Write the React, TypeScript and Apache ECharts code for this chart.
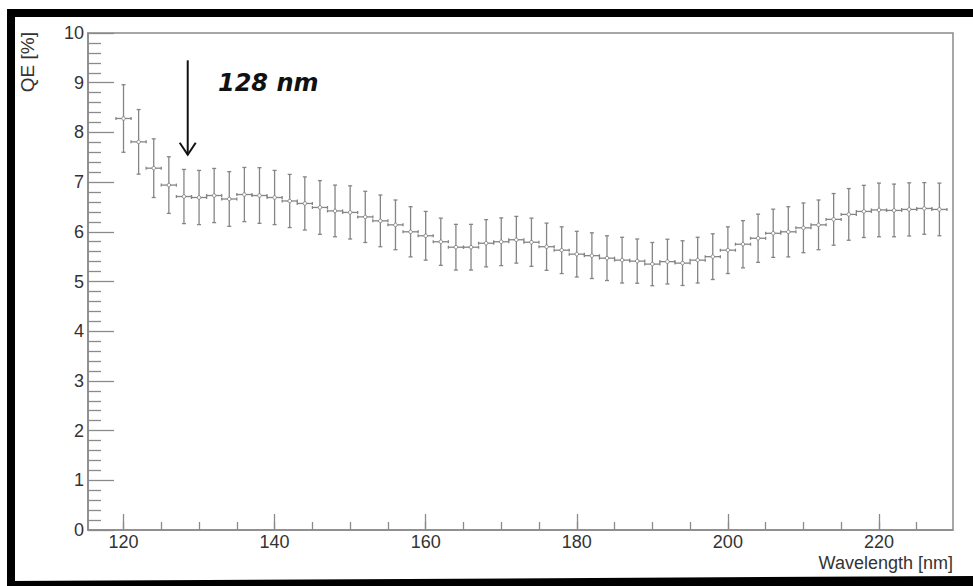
import React, { useEffect, useRef } from "react";
import * as echarts from "echarts";

const WAVELENGTH = [
  120, 122, 124, 126, 128, 130, 132, 134, 136, 138, 140, 142, 144, 146, 148,
  150, 152, 154, 156, 158, 160, 162, 164, 166, 168, 170, 172, 174, 176, 178,
  180, 182, 184, 186, 188, 190, 192, 194, 196, 198, 200, 202, 204, 206, 208,
  210, 212, 214, 216, 218, 220, 222, 224, 226, 228,
];
const QE = [
  8.28, 7.81, 7.28, 6.94, 6.71, 6.69, 6.73, 6.66, 6.75, 6.73, 6.69, 6.62, 6.57,
  6.49, 6.42, 6.39, 6.3, 6.22, 6.14, 6.0, 5.92, 5.8, 5.69, 5.69, 5.77, 5.8,
  5.84, 5.79, 5.7, 5.63, 5.55, 5.52, 5.47, 5.43, 5.41, 5.35, 5.4, 5.37, 5.43,
  5.5, 5.63, 5.75, 5.87, 5.97, 6.0, 6.08, 6.14, 6.25, 6.35, 6.41, 6.44, 6.43,
  6.45, 6.47, 6.45,
];
const QE_ERR = [
  0.68, 0.65, 0.59, 0.57, 0.545, 0.545, 0.545, 0.55, 0.545, 0.56, 0.545, 0.535,
  0.535, 0.54, 0.52, 0.535, 0.515, 0.52, 0.5, 0.505, 0.49, 0.475, 0.46, 0.46,
  0.475, 0.48, 0.47, 0.485, 0.475, 0.47, 0.46, 0.46, 0.45, 0.46, 0.445, 0.435,
  0.45, 0.45, 0.46, 0.46, 0.47, 0.475, 0.485, 0.485, 0.505, 0.5, 0.5, 0.52,
  0.52, 0.525, 0.54, 0.53, 0.535, 0.52, 0.53,
];
const BIN_HALF_WIDTH = 1;

const X_MAJOR_TICKS = [120, 140, 160, 180, 200, 220];
const X_MINOR_TICKS = [
  120, 125, 130, 135, 140, 145, 150, 155, 160, 165, 170, 175, 180, 185, 190,
  195, 200, 205, 210, 215, 220, 225,
];
const X_MIN = 115.3;
const X_MAX = 229.8;
const Y_MIN = 0;
const Y_MAX = 10;

// annotation: [arrowX, arrowTopY, arrowBottomY, textX, textY]
const ANNOTATION = [[128.5, 9.45, 7.55, 132.5, 9.0]];
const ANNOTATION_TEXT = "128 nm";

const X_TITLE = "Wavelength [nm]";
const Y_TITLE = "QE [%]";

const AXIS_GRAY = "#8a8a8a";
const BAR_GRAY = "#858585";
const FONT = '"Liberation Sans", Arial, Helvetica, sans-serif';

export default function App() {
  const ref = useRef<HTMLDivElement>(null);

  useEffect(() => {
    if (!ref.current) return;
    const chart = echarts.init(ref.current, undefined, { renderer: "svg" });

    const data = WAVELENGTH.map((w, i) => [w, QE[i], QE_ERR[i]]);

    const option: any = {
      animation: false,
      backgroundColor: "#ffffff",
      grid: {
        left: 88,
        right: 20,
        top: 33,
        bottom: 56,
        show: true,
        borderColor: AXIS_GRAY,
        borderWidth: 1.5,
        backgroundColor: "transparent",
      },
      xAxis: [
        {
          type: "value",
          min: X_MIN,
          max: X_MAX,
          position: "bottom",
          axisLine: { show: true, lineStyle: { color: AXIS_GRAY, width: 1.5 } },
          axisTick: {
            show: true,
            inside: true,
            length: 16,
            customValues: X_MAJOR_TICKS,
            lineStyle: { color: AXIS_GRAY, width: 1.3 },
          },
          axisLabel: {
            customValues: X_MAJOR_TICKS,
            fontFamily: FONT,
            fontSize: 18,
            color: "#333",
            margin: 3,
          },
          splitLine: { show: false },
        },
        {
          type: "value",
          min: X_MIN,
          max: X_MAX,
          position: "bottom",
          axisLine: { show: false },
          axisTick: {
            show: true,
            inside: true,
            length: 8,
            customValues: X_MINOR_TICKS,
            lineStyle: { color: AXIS_GRAY, width: 1.3 },
          },
          axisLabel: { show: false },
          splitLine: { show: false },
        },
      ],
      yAxis: {
        type: "value",
        min: Y_MIN,
        max: Y_MAX,
        interval: 1,
        axisLine: { show: true, lineStyle: { color: AXIS_GRAY, width: 1.5 } },
        axisTick: {
          show: true,
          inside: true,
          length: 26,
          lineStyle: { color: AXIS_GRAY, width: 1.3 },
        },
        minorTick: {
          show: true,
          splitNumber: 5,
          length: 13,
          lineStyle: { color: AXIS_GRAY, width: 1.3 },
        },
        axisLabel: {
          fontFamily: FONT,
          fontSize: 18,
          color: "#333",
          margin: 4,
        },
        splitLine: { show: false },
        minorSplitLine: { show: false },
      },
      series: [
        {
          type: "custom",
          xAxisIndex: 0,
          yAxisIndex: 0,
          data,
          encode: { x: 0, y: 1 },
          renderItem: (params: any, api: any) => {
            const x = api.value(0);
            const y = api.value(1);
            const e = api.value(2);
            const c = api.coord([x, y]);
            const t = api.coord([x, y + e]);
            const b = api.coord([x, y - e]);
            const l = api.coord([x - BIN_HALF_WIDTH, y]);
            const r = api.coord([x + BIN_HALF_WIDTH, y]);
            const st = { stroke: BAR_GRAY, lineWidth: 1.3, fill: "none" };
            return {
              type: "group",
              children: [
                { type: "line", shape: { x1: t[0], y1: t[1], x2: b[0], y2: b[1] }, style: st },
                { type: "line", shape: { x1: t[0] - 2, y1: t[1], x2: t[0] + 2, y2: t[1] }, style: st },
                { type: "line", shape: { x1: b[0] - 2, y1: b[1], x2: b[0] + 2, y2: b[1] }, style: st },
                { type: "line", shape: { x1: l[0], y1: l[1], x2: r[0], y2: r[1] }, style: st },
                { type: "line", shape: { x1: l[0], y1: l[1] - 1.5, x2: l[0], y2: l[1] + 1.5 }, style: st },
                { type: "line", shape: { x1: r[0], y1: r[1] - 1.5, x2: r[0], y2: r[1] + 1.5 }, style: st },
                {
                  type: "circle",
                  shape: { cx: c[0], cy: c[1], r: 1.8 },
                  style: { stroke: BAR_GRAY, lineWidth: 1, fill: "#ffffff" },
                },
              ],
            };
          },
          z: 3,
        },
        {
          type: "custom",
          xAxisIndex: 0,
          yAxisIndex: 0,
          data: ANNOTATION,
          encode: { x: 0, y: 1 },
          clip: false,
          renderItem: (params: any, api: any) => {
            const top = api.coord([api.value(0), api.value(1)]);
            const bot = api.coord([api.value(0), api.value(2)]);
            const tp = api.coord([api.value(3), api.value(4)]);
            const st = { stroke: "#111", lineWidth: 2, fill: "none" };
            return {
              type: "group",
              children: [
                { type: "line", shape: { x1: top[0], y1: top[1], x2: bot[0], y2: bot[1] }, style: st },
                {
                  type: "polyline",
                  shape: {
                    points: [
                      [bot[0] - 8, bot[1] - 12],
                      [bot[0], bot[1]],
                      [bot[0] + 8, bot[1] - 12],
                    ],
                  },
                  style: st,
                },
                {
                  type: "text",
                  x: tp[0],
                  y: tp[1],
                  style: {
                    text: ANNOTATION_TEXT,
                    fill: "#111",
                    fontFamily: '"DejaVu Sans", Verdana, sans-serif',
                    fontSize: 24,
                    fontWeight: "bold",
                    fontStyle: "italic",
                    align: "left",
                    verticalAlign: "middle",
                  },
                },
              ],
            };
          },
          z: 4,
        },
      ],
      graphic: [
        {
          type: "rect",
          shape: { x: 7, y: 9, width: 966, height: 8 },
          style: { fill: "#000" },
          silent: true,
        },
        {
          type: "rect",
          shape: { x: 7, y: 9, width: 8, height: 577 },
          style: { fill: "#000" },
          silent: true,
        },
        {
          type: "polygon",
          shape: {
            points: [
              [7, 581],
              [973, 576],
              [973, 586],
              [7, 586],
            ],
          },
          style: { fill: "#000" },
          silent: true,
        },
        {
          type: "text",
          x: 27,
          y: 32,
          rotation: Math.PI / 2,
          style: {
            text: Y_TITLE,
            fill: "#333",
            font: `19px ${FONT}`,
            textAlign: "right",
            textVerticalAlign: "middle",
            align: "right",
            verticalAlign: "middle",
          },
        },
        {
          type: "text",
          x: 953,
          y: 563,
          style: {
            text: X_TITLE,
            fill: "#333",
            font: `18px ${FONT}`,
            textAlign: "right",
            textVerticalAlign: "middle",
            align: "right",
            verticalAlign: "middle",
          },
        },
      ],
    };

    chart.setOption(option);
    return () => chart.dispose();
  }, []);

  return (
    <div
      ref={ref}
      style={{ position: "absolute", left: 0, top: 0, width: 973, height: 586 }}
    />
  );
}
